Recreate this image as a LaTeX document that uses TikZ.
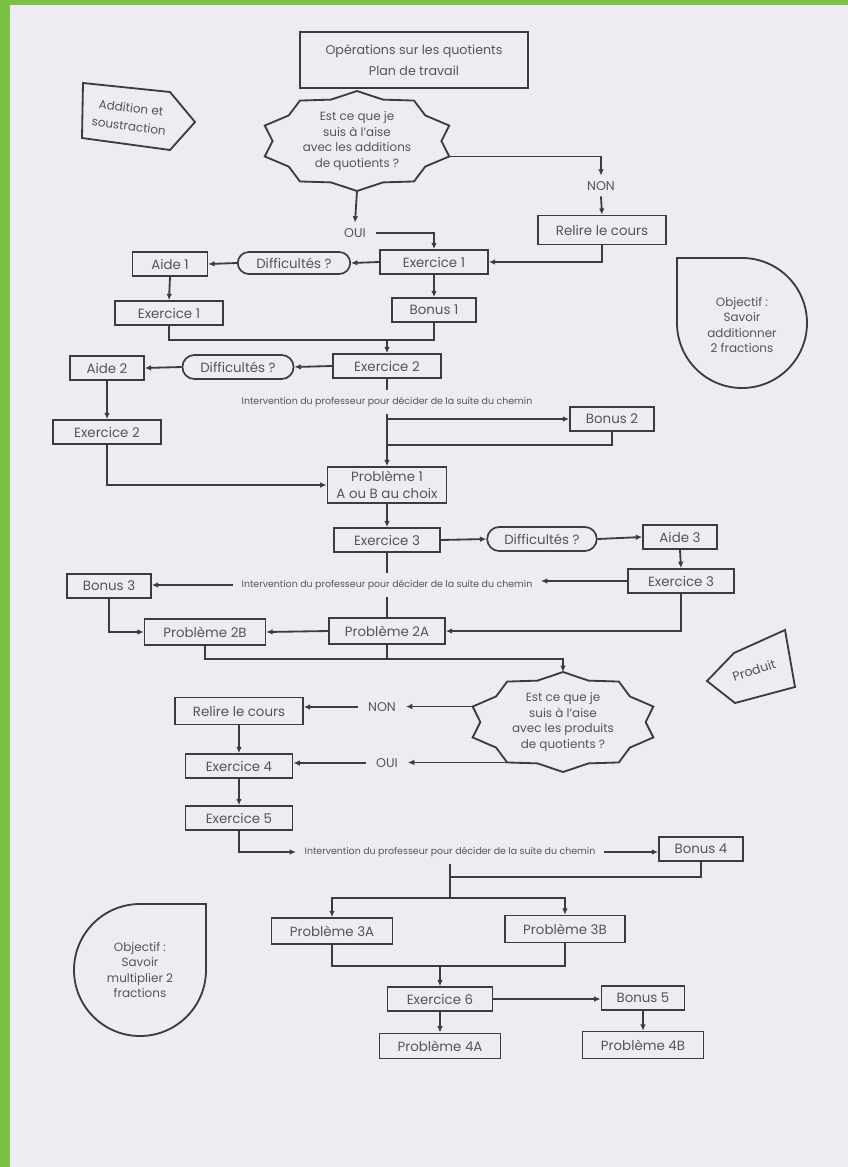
\documentclass[tikz,border=0pt]{standalone}
\usepackage{fontspec}
\setmainfont{Poppins}
\usetikzlibrary{shapes.misc, arrows.meta, calc}

\definecolor{paper}{HTML}{EDECF0}
\definecolor{leaf}{HTML}{7CC242}
\definecolor{ink}{HTML}{3C3C3C}
\definecolor{pencil}{HTML}{555555}

% 10-point burst drawn round a text node: name, x radius, y radius
\newcommand{\burst}[3]{%
    \foreach \k in {0,...,9}{
        \coordinate (#1p\k) at ([shift={({90+36*\k}:#2 and #3)}]#1.center);
        \coordinate (#1i\k) at ([shift={({108+36*\k}:{0.87*#2} and {0.87*#3})}]#1.center);
    }
    \draw[edge] (#1i9) \foreach \k in {0,...,9}{ -- (#1p\k) -- (#1i\k)} -- cycle;
}

\begin{document}
\begin{tikzpicture}[
    x=0.025cm, y=-0.025cm,
    edge/.style={draw=ink, line width=1.3pt},
    arr/.style={edge, -{Latex[length=4.5pt, width=4pt]}},
    box/.style={draw=ink, line width=1.2pt, rectangle, minimum height=0.6cm, inner sep=2pt, text=pencil, font=\fontsize{9.5}{11}\selectfont},
    pill/.style={box, rounded rectangle},
    lbl/.style={text=pencil, inner xsep=7pt, inner ysep=4pt, font=\fontsize{9}{10}\selectfont},
    inter/.style={text=pencil, inner xsep=6pt, inner ysep=5pt, font=\fontsize{6.7}{8}\selectfont},
    blurb/.style={text=pencil, align=center, font=\fontsize{8.5}{11}\selectfont}
]
    % --- PAPER ---
    \fill[leaf] (0,0) rectangle (848,1167);
    \fill[paper] (10,5) rectangle (848,1167);
    \useasboundingbox (0,0) rectangle (848,1167);

    % --- TITLE AND TAGS ---
    \node[box, minimum width=5.7cm, minimum height=1.4cm, align=center, font=\fontsize{9}{15}\selectfont] (title) at (414,60) {Opérations sur les quotients\\Plan de travail};
    \draw[edge] (83,83) -- (170,92) -- (195,122) -- (170,150) -- (82,138) -- cycle;
    \node[blurb, rotate=-7, font=\fontsize{8.5}{13}\selectfont] (addtag) at (130,117) {Addition et\\soustraction};
    \draw[edge] (707,681) -- (734,653) -- (785,630) -- (795,687) -- (735,703) -- cycle;
    \node[blurb, rotate=18, font=\fontsize{9}{10}\selectfont] (prodtag) at (754,670) {Produit};

    % --- GOALS ---
    \draw[edge] (677,258) -- (742,258) arc[start angle=270, end angle=540, radius=65] -- cycle;
    \node[blurb] (goal1) at (742,325) {Objectif :\\Savoir\\additionner\\2 fractions};
    \draw[edge] (140,904) arc[start angle=270, end angle=0, radius=66] -- (206,904) -- cycle;
    \node[blurb] (goal2) at (140,970) {Objectif :\\Savoir\\multiplier 2\\fractions};

    % --- ADDITION PATH ---
    \node[blurb] (q1) at (357,141) {Est ce que je\\suis à l'aise\\avec les additions\\de quotients ?};
    \burst{q1}{97}{50}
    \node[lbl] (oui1) at (355,233) {OUI};
    \node[lbl] (non1) at (601,186) {NON};
    \node[box, minimum width=3.2cm, minimum height=0.72cm] (relire1) at (602,230) {Relire le cours};
    \node[box, minimum width=2.7cm] (ex1) at (434,262) {Exercice 1};
    \node[pill, minimum width=2.95cm, minimum height=0.55cm] (diff1) at (294,263) {Difficultés ?};
    \node[box, minimum width=1.87cm] (aide1) at (170,264) {Aide 1};
    \node[box, minimum width=2.7cm] (ex1b) at (169,313) {Exercice 1};
    \node[box, minimum width=2.1cm] (bonus1) at (434,310) {Bonus 1};
    \coordinate (m1) at (434,340);

    \draw[arr] (q1p0) -- (oui1.north);
    \draw[arr] (oui1.east) -| (ex1.north);
    \draw[arr] (q1p8) -| (non1.north);
    \draw[arr] (non1.south) -- (relire1.north);
    \draw[arr] (relire1.south) |- (ex1.east);
    \draw[arr] (ex1.west) -- (diff1.east);
    \draw[arr] (diff1.west) -- (aide1.east);
    \draw[arr] (aide1.south) -- (ex1b.north);
    \draw[arr] (ex1.south) -- (bonus1.north);
    \draw[edge] (ex1b.south) |- (m1) -- (bonus1.south);

    \node[box, minimum width=2.7cm] (ex2) at (387,366) {Exercice 2};
    \node[pill, minimum width=2.92cm] (diff2) at (238,367) {Difficultés ?};
    \node[box, minimum width=1.85cm] (aide2) at (107,368) {Aide 2};
    \node[box, minimum width=2.7cm] (ex2b) at (107,432) {Exercice 2};
    \node[inter] (inter1) at (387,402) {Intervention du professeur pour décider de la suite du chemin};
    \node[box, minimum width=2.1cm] (bonus2) at (612,419) {Bonus 2};
    \coordinate (m2) at (387,445);
    \node[box, minimum width=2.98cm, minimum height=0.9cm, align=center, font=\fontsize{9.5}{12}\selectfont] (prob1) at (387,485) {Problème 1\\A ou B au choix};

    \draw[arr] (ex2.north |- m1) -- (ex2.north);
    \draw[arr] (ex2.west) -- (diff2.east);
    \draw[arr] (diff2.west) -- (aide2.east);
    \draw[arr] (aide2.south) -- (ex2b.north);
    \draw[edge] (ex2.south) -- (inter1.north);
    \draw[arr] (inter1.south) -- (prob1.north);
    \draw[arr] (bonus2.west -| prob1.north) -- (bonus2.west);
    \draw[edge] (bonus2.south) |- (m2);
    \draw[arr] (ex2b.south) |- (prob1.west);

    \node[box, minimum width=2.65cm] (ex3) at (387,540) {Exercice 3};
    \node[pill, minimum width=2.88cm] (diff3) at (542,539) {Difficultés ?};
    \node[box, minimum width=1.85cm] (aide3) at (680,537) {Aide 3};
    \node[box, minimum width=2.65cm] (ex3b) at (681,581) {Exercice 3};
    \node[inter] (inter2) at (387,585) {Intervention du professeur pour décider de la suite du chemin};
    \node[box, minimum width=2.1cm] (bonus3) at (109,586) {Bonus 3};
    \node[box, minimum width=2.9cm, minimum height=0.65cm] (prob2a) at (387,631) {Problème 2A};
    \node[box, minimum width=3.02cm, minimum height=0.65cm] (prob2b) at (205,632) {Problème 2B};
    \coordinate (m3) at (387,659);

    \draw[arr] (prob1.south) -- (ex3.north);
    \draw[arr] (ex3.east) -- (diff3.west);
    \draw[arr] (diff3.east) -- (aide3.west);
    \draw[arr] (aide3.south) -- (ex3b.north);
    \draw[arr] (ex3b.west) -- (ex3b.west -| inter2.east);
    \draw[arr] (inter2.west) -- (inter2.west -| bonus3.east);
    \draw[edge] (ex3.south) -- (inter2.north);
    \draw[edge] (inter2.south) -- (prob2a.north);
    \draw[arr] (ex3b.south) |- (prob2a.east);
    \draw[arr] (prob2a.west) -- (prob2b.east);
    \draw[arr] (bonus3.south) |- (prob2b.west);
    \draw[edge] (prob2a.south) -- (m3);

    % --- PRODUCT PATH ---
    \node[blurb] (q2) at (563,722) {Est ce que je\\suis à l'aise\\avec les produits\\de quotients ?};
    \burst{q2}{95}{50}
    \draw[arr] (prob2b.south) |- (m3) -| (q2p5);

    \node[lbl] (non2) at (382,707) {NON};
    \node[lbl] (oui2) at (387,763) {OUI};
    \node[box, minimum width=3.2cm, minimum height=0.68cm] (relire2) at (239,711) {Relire le cours};
    \node[box, minimum width=2.68cm] (ex4) at (239,766) {Exercice 4};
    \node[box, minimum width=2.68cm] (ex5) at (239,818) {Exercice 5};
    \node[inter] (inter3) at (450,852) {Intervention du professeur pour décider de la suite du chemin};
    \node[box, minimum width=2.1cm] (bonus4) at (701,849) {Bonus 4};
    \coordinate (m4) at (450,877);
    \coordinate (m5) at (450,898);

    \draw[arr] (q2p3) -- (q2p3 -| non2.east);
    \draw[arr] (non2.west) -- (non2.west -| relire2.east);
    \draw[arr] (q2p1) -- (q2p1 -| oui2.east);
    \draw[arr] (oui2.west) -- (oui2.west -| ex4.east);
    \draw[arr] (relire2.south) -- (ex4.north);
    \draw[arr] (ex4.south) -- (ex5.north);
    \draw[arr] (ex5.south) |- (inter3.west);
    \draw[arr] (inter3.east) -- (inter3.east -| bonus4.west);
    \draw[edge] (bonus4.south) |- (m4);
    \draw[edge] (inter3.south) -- (m5);

    \node[box, minimum width=3.02cm, minimum height=0.65cm] (prob3a) at (332,931) {Problème 3A};
    \node[box, minimum width=3.0cm, minimum height=0.67cm] (prob3b) at (565,929) {Problème 3B};
    \coordinate (m6) at (440,966);
    \node[box, minimum width=2.62cm] (ex6) at (440,999) {Exercice 6};
    \node[box, minimum width=2.08cm] (bonus5) at (643,998) {Bonus 5};
    \node[box, minimum width=3.02cm, minimum height=0.63cm] (prob4a) at (440,1046) {Problème 4A};
    \node[box, minimum width=3.02cm, minimum height=0.67cm] (prob4b) at (643,1045) {Problème 4B};

    \draw[arr] (m5) -| (prob3a.north);
    \draw[arr] (m5) -| (prob3b.north);
    \draw[edge] (prob3a.south) |- (m6) -| (prob3b.south);
    \draw[arr] (m6) -- (ex6.north);
    \draw[arr] (ex6.east) -- (ex6.east -| bonus5.west);
    \draw[arr] (ex6.south) -- (prob4a.north);
    \draw[arr] (bonus5.south) -- (prob4b.north);
\end{tikzpicture}
\end{document}
